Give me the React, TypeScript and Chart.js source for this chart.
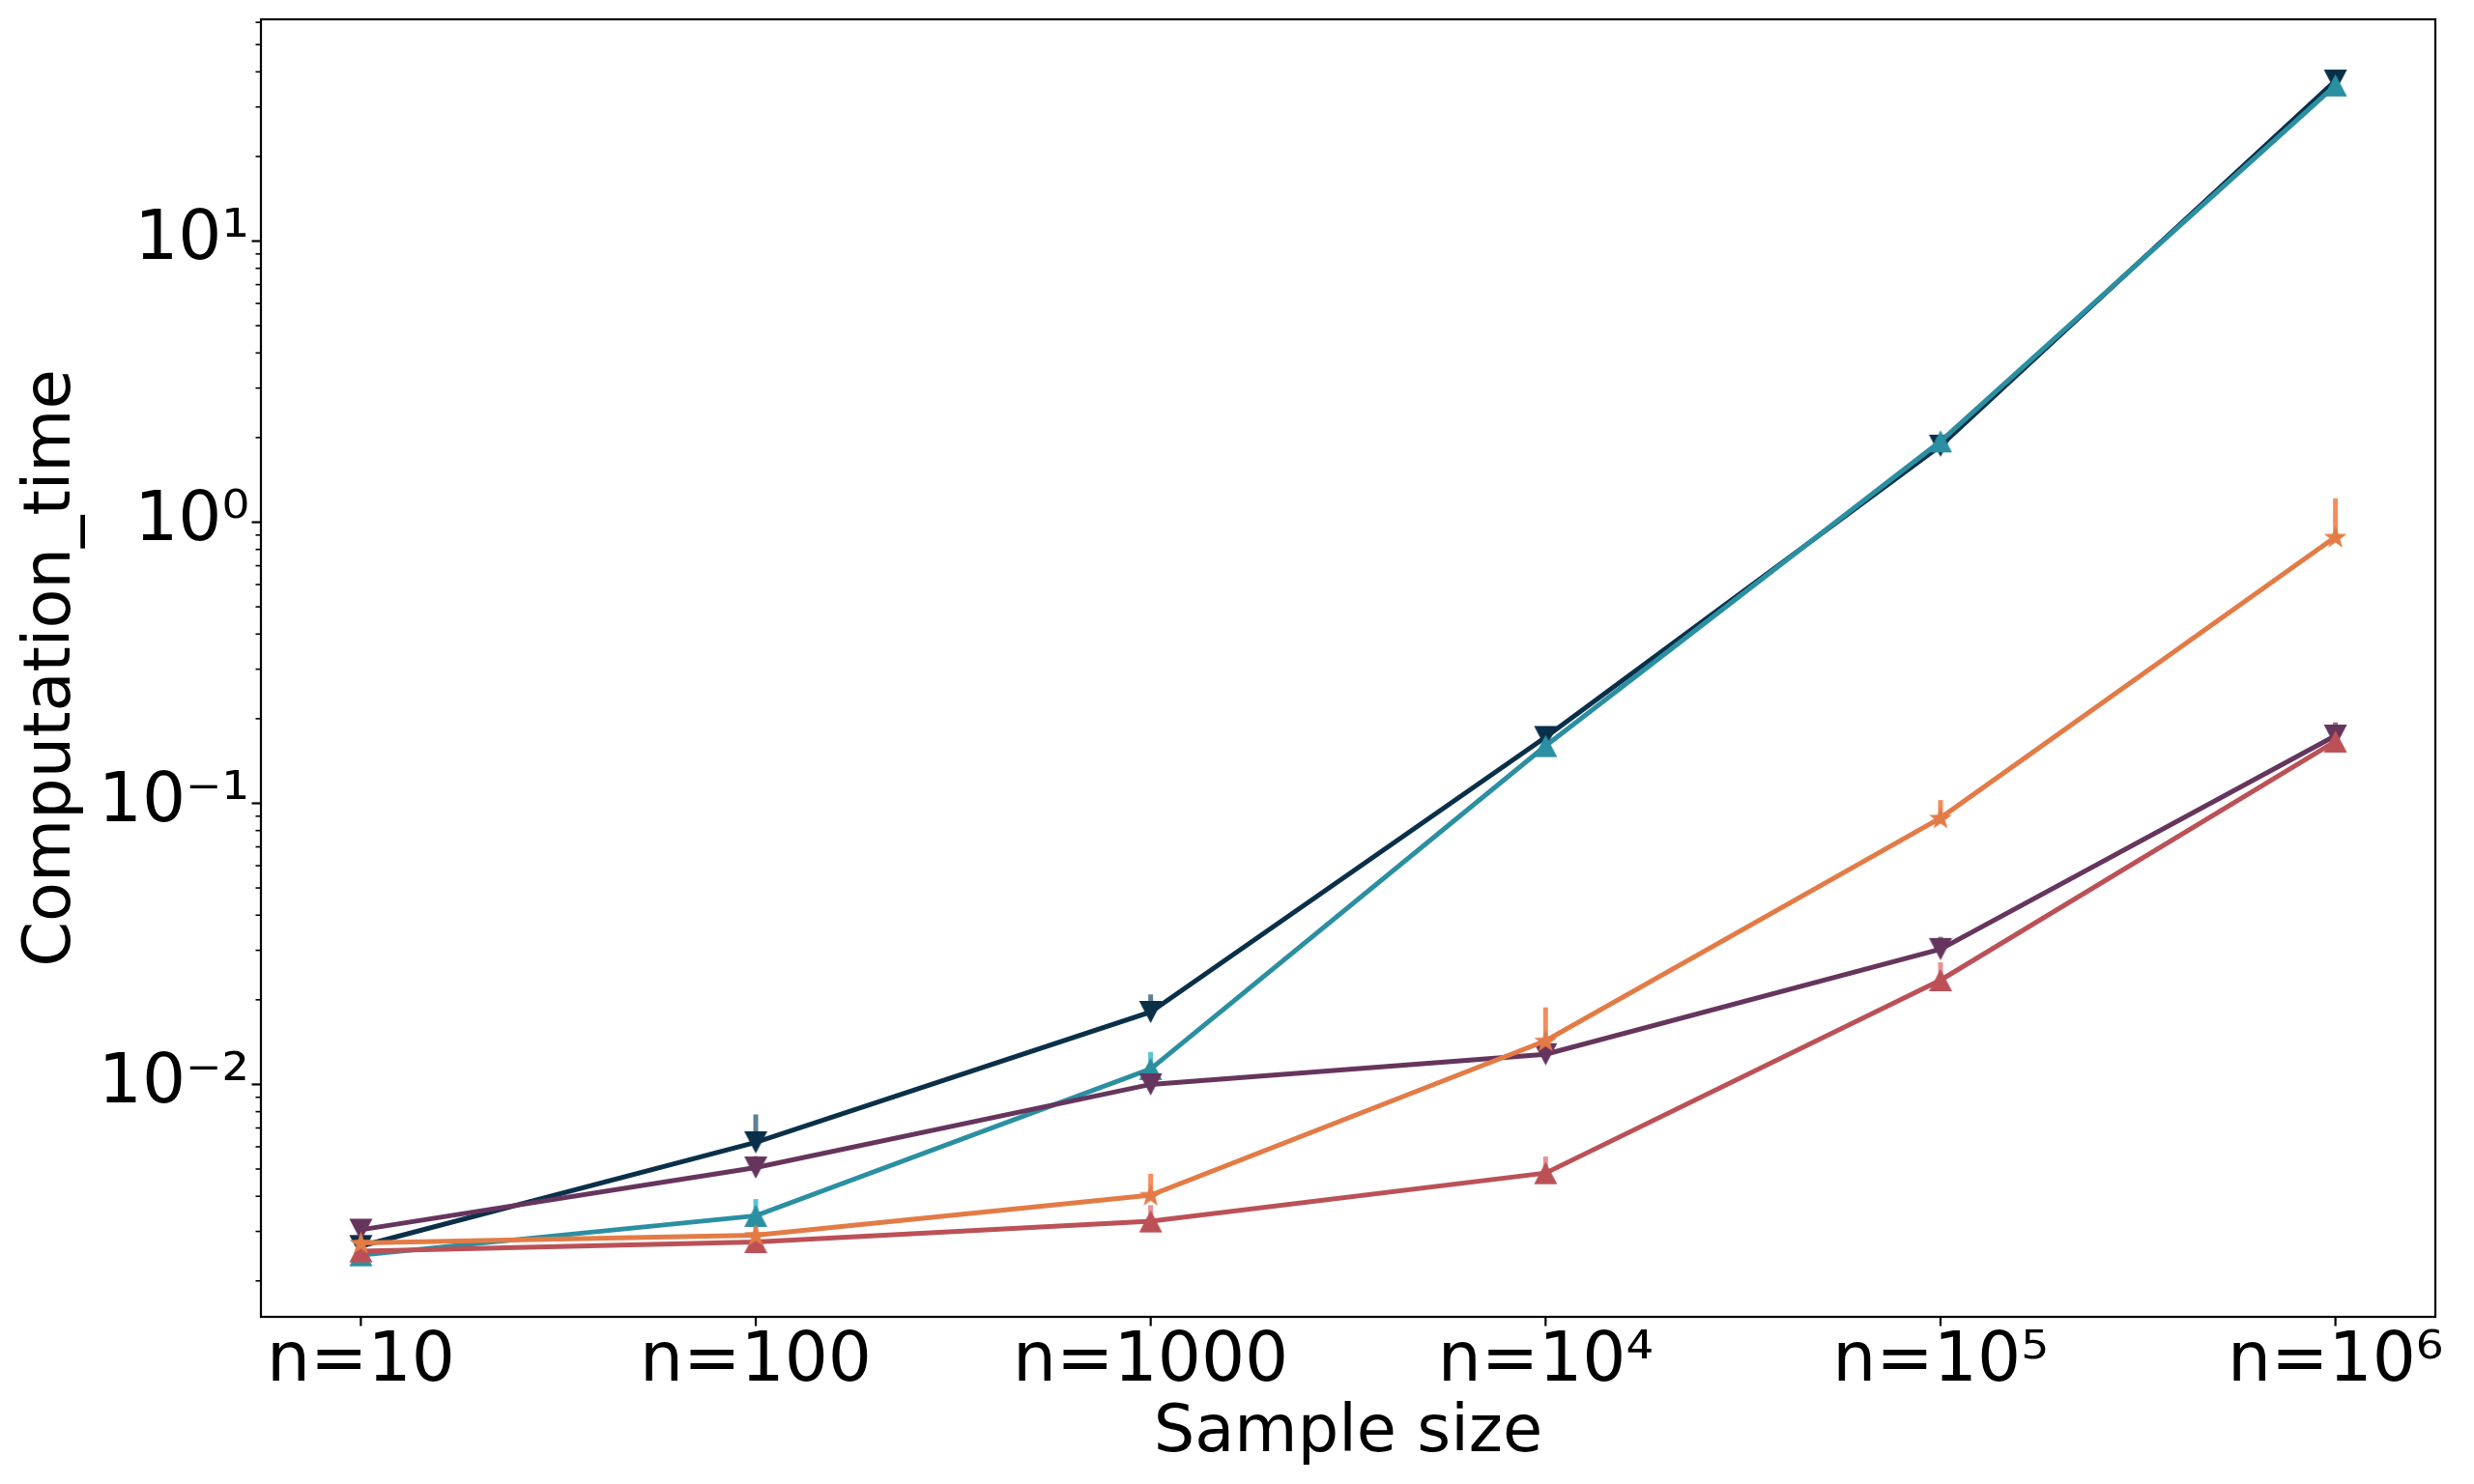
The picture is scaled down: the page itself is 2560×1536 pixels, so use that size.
import React, { useEffect, useRef } from "react";
import { Chart, registerables } from "chart.js";

Chart.register(...registerables);

// ---------- data ----------
const categories = ["n=10", "n=100", "n=1000", "n=10⁴", "n=10⁵", "n=10⁶"];
const yTickValues = [0.01, 0.1, 1, 10];
const yTickLabels = ["10⁻²", "10⁻¹", "10⁰", "10¹"];

const navyValues = [0.00266, 0.00622, 0.0181, 0.172, 1.87, 37.2];
const navyErrors = [0, 0.0016, 0.0028, 0, 0, 0];

const tealValues = [0.00247, 0.00341, 0.01135, 0.16, 1.94, 35.8];
const tealErrors = [0, 0.0005, 0.0017, 0, 0, 0];

const purpleValues = [0.00304, 0.00506, 0.01, 0.0128, 0.0303, 0.174];
const purpleErrors = [0.0002, 0.0005, 0.0003, 0.0008, 0.0032, 0.02];

const orangeValues = [0.00273, 0.00291, 0.00404, 0.0143, 0.0887, 0.886];
const orangeErrors = [0.0001, 0.0002, 0.00077, 0.0045, 0.014, 0.33];

const redValues = [0.00255, 0.00275, 0.00326, 0.00484, 0.0235, 0.166];
const redErrors = [0.00005, 0.0001, 0.00046, 0.0007, 0.0037, 0.012];

const Y_MIN = 0.00149;
const Y_MAX = 61.5;

// ---------- styles ----------
const FONT = "'DejaVu Sans', 'Liberation Sans', sans-serif";

type Kind = "up" | "down" | "star";

function makeMarker(kind: Kind, color: string): HTMLCanvasElement {
  const c = document.createElement("canvas");
  const s = 27;
  c.width = s;
  c.height = s;
  const g = c.getContext("2d")!;
  g.fillStyle = color;
  g.beginPath();
  if (kind === "up") {
    g.moveTo(s / 2, 2);
    g.lineTo(s - 1.5, s - 2);
    g.lineTo(1.5, s - 2);
  } else if (kind === "down") {
    g.moveTo(s / 2, s - 2);
    g.lineTo(s - 1.5, 2);
    g.lineTo(1.5, 2);
  } else {
    const cx = s / 2, cy = s / 2 + 0.8, R = 12.5, r = 5.0;
    for (let k = 0; k < 10; k++) {
      const ang = -Math.PI / 2 + (k * Math.PI) / 5;
      const rr = k % 2 === 0 ? R : r;
      const px = cx + rr * Math.cos(ang);
      const py = cy + rr * Math.sin(ang);
      if (k === 0) g.moveTo(px, py);
      else g.lineTo(px, py);
    }
  }
  g.closePath();
  g.fill();
  return c;
}

const seriesList = [
  { values: navyValues, errors: navyErrors, color: "#0a3049", errColor: "#5f7f92", kind: "down" as Kind, order: 5 },
  { values: tealValues, errors: tealErrors, color: "#2b8fa2", errColor: "#5cc3d6", kind: "up" as Kind, order: 4 },
  { values: purpleValues, errors: purpleErrors, color: "#66355d", errColor: "#906b89", kind: "down" as Kind, order: 3 },
  { values: redValues, errors: redErrors, color: "#bb5157", errColor: "#e99196", kind: "up" as Kind, order: 2 },
  { values: orangeValues, errors: orangeErrors, color: "#e37b46", errColor: "#f48d5b", kind: "star" as Kind, order: 1 },
];

const decorPlugin = {
  id: "decor",
  beforeDatasetsDraw(chart: any) {
    const { ctx, chartArea } = chart;
    const xs = chart.scales.x;
    const ys = chart.scales.y;
    ctx.save();
    ctx.beginPath();
    ctx.rect(chartArea.left, chartArea.top, chartArea.right - chartArea.left, chartArea.bottom - chartArea.top);
    ctx.clip();
    ctx.lineWidth = 5;
    ctx.lineCap = "butt";
    seriesList.forEach((s) => {
      ctx.strokeStyle = s.errColor;
      s.values.forEach((v, i) => {
        const e = s.errors[i];
        if (!e) return;
        const px = xs.getPixelForValue(i);
        ctx.beginPath();
        ctx.moveTo(px, ys.getPixelForValue(v));
        ctx.lineTo(px, ys.getPixelForValue(v + e));
        ctx.stroke();
      });
    });
    ctx.restore();
  },
  afterDraw(chart: any) {
    const { ctx, chartArea } = chart;
    const xs = chart.scales.x;
    const ys = chart.scales.y;
    ctx.save();
    ctx.strokeStyle = "#000";
    ctx.lineWidth = 2.2;
    ctx.strokeRect(chartArea.left, chartArea.top, chartArea.right - chartArea.left, chartArea.bottom - chartArea.top);
    categories.forEach((_, i) => {
      const px = xs.getPixelForValue(i);
      ctx.beginPath();
      ctx.moveTo(px, chartArea.bottom);
      ctx.lineTo(px, chartArea.bottom + 9.5);
      ctx.stroke();
    });
    yTickValues.forEach((v) => {
      const py = ys.getPixelForValue(v);
      ctx.beginPath();
      ctx.moveTo(chartArea.left, py);
      ctx.lineTo(chartArea.left - 9.5, py);
      ctx.stroke();
    });
    ctx.lineWidth = 1.6;
    for (let d = -3; d <= 1; d++) {
      for (let k = 2; k <= 9; k++) {
        const v = k * Math.pow(10, d);
        if (v < Y_MIN || v > Y_MAX) continue;
        const py = ys.getPixelForValue(v);
        ctx.beginPath();
        ctx.moveTo(chartArea.left, py);
        ctx.lineTo(chartArea.left - 5.5, py);
        ctx.stroke();
      }
    }
    ctx.restore();
  },
};

export default function App() {
  const canvasRef = useRef<HTMLCanvasElement | null>(null);

  useEffect(() => {
    if (!canvasRef.current) return;
    const datasets = seriesList.map((s) => {
      const marker = makeMarker(s.kind, s.color);
      return {
        data: s.values.map((v, i) => ({ x: i, y: v })),
        borderColor: s.color,
        backgroundColor: s.color,
        borderWidth: 5,
        pointStyle: marker as any,
        pointRadius: 13,
        pointHoverRadius: 13,
        tension: 0,
        order: s.order,
        clip: false as any,
      };
    });

    const chart = new Chart(canvasRef.current, {
      type: "line",
      data: { datasets },
      plugins: [decorPlugin],
      options: {
        animation: false,
        responsive: false,
        devicePixelRatio: 1,
        layout: { padding: { top: 20, right: 40, left: 0, bottom: 0 } },
        plugins: { legend: { display: false }, tooltip: { enabled: false } },
        scales: {
          x: {
            type: "linear",
            min: -0.253,
            max: 5.253,
            afterBuildTicks: (scale: any) => {
              scale.ticks = categories.map((_, i) => ({ value: i }));
            },
            afterFit: (scale: any) => {
              scale.height = 173;
              scale.paddingLeft = 0;
              scale.paddingRight = 0;
            },
            grid: { display: false, drawTicks: false, tickLength: 0 },
            border: { display: false },
            ticks: {
              autoSkip: false,
              maxRotation: 0,
              padding: 5,
              color: "#000",
              font: { family: FONT, size: 71, lineHeight: 1.2 },
              callback: (value: any) => categories[Math.round(Number(value))] ?? null,
            },
            title: {
              display: true,
              text: "Sample size",
              color: "#000",
              font: { family: FONT, size: 67, lineHeight: 1.2 },
              padding: { top: 0, bottom: 11 },
            },
          },
          y: {
            type: "logarithmic",
            min: Y_MIN,
            max: Y_MAX,
            afterBuildTicks: (scale: any) => {
              scale.ticks = yTickValues.map((v) => ({ value: v }));
            },
            afterFit: (scale: any) => {
              scale.width = 270;
              scale.paddingTop = 0;
              scale.paddingBottom = 0;
            },
            grid: { display: false, drawTicks: false, tickLength: 0 },
            border: { display: false },
            ticks: {
              autoSkip: false,
              padding: 12,
              color: "#000",
              font: { family: FONT, size: 71, lineHeight: 1.2 },
              callback: (_value: any, index: number) => yTickLabels[index] ?? null,
            },
            title: {
              display: true,
              text: "Computation_time",
              color: "#000",
              font: { family: FONT, size: 67, lineHeight: 1.2 },
              padding: { top: 14, bottom: 0 },
            },
          },
        },
      },
    });
    return () => chart.destroy();
  }, []);

  return (
    <div style={{ position: "absolute", left: 0, top: 0, width: 2560, height: 1536, background: "#fff" }}>
      <canvas ref={canvasRef} width={2560} height={1536} style={{ width: 2560, height: 1536, display: "block" }} />
    </div>
  );
}
